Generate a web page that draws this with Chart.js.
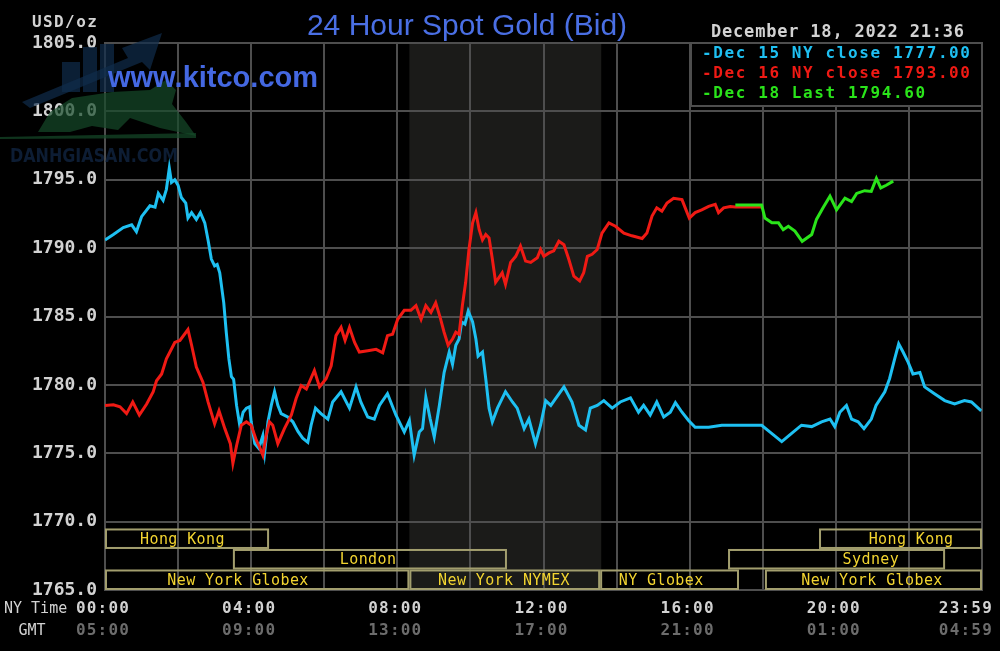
<!DOCTYPE html>
<html>
<head>
<meta charset="utf-8">
<script src="https://cdn.jsdelivr.net/npm/chart.js@4.4.1/dist/chart.umd.min.js"></script>
<style>
html,body{margin:0;padding:0;background:#000;}
canvas{display:block;}
</style>
</head>
<body>
<canvas id="c" width="1000" height="651"></canvas>
<script>
// ---------- DATA ----------
const titleText = '24 Hour Spot Gold (Bid)';
const siteText = 'www.kitco.com';
const dateText = 'December 18, 2022 21:36';
const unitText = 'USD/oz';

const yTicks = [1765, 1770, 1775, 1780, 1785, 1790, 1795, 1800, 1805];
const gridHours = [0, 2, 4, 6, 8, 10, 12, 14, 16, 18, 20, 22, 24];
const xLabelHours = [0, 4, 8, 12, 16, 20, 24];
const nyLabels = ['00:00', '04:00', '08:00', '12:00', '16:00', '20:00', '23:59'];
const gmtLabels = ['05:00', '09:00', '13:00', '17:00', '21:00', '01:00', '04:59'];

const legendNames = ['Dec 15 NY close', 'Dec 16 NY close', 'Dec 18 Last'];
const legendValues = ['1777.00', '1793.00', '1794.60'];

// NYMEX shaded window (hours, NY time)
const shadeStart = 8.33;
const shadeEnd = 13.58;

// trading sessions
const sessNames = ['Hong Kong', 'London', 'New York Globex', 'New York NYMEX', 'NY Globex', 'Sydney', 'Hong Kong', 'New York Globex'];
const sessStart = [0, 3.5, 0, 8.33, 13.55, 17.05, 19.54, 18.06];
const sessEnd = [4.49, 11.0, 8.33, 13.55, 17.35, 22.99, 24, 24];
const sessRow = [2, 1, 0, 0, 0, 1, 2, 0];
const sessLabelAt = [2.12, 7.2, 3.64, 10.92, 15.22, 20.96, 22.06, 20.99];

// Dec 15 (cyan)
const dec15T = [0,0.23,0.5,0.73,0.86,1.0,1.23,1.37,1.46,1.59,1.68,1.76,1.82,1.91,2.0,2.09,2.21,2.27,2.37,2.5,2.61,2.73,2.82,2.91,3.0,3.07,3.14,3.25,3.32,3.39,3.46,3.52,3.6,3.69,3.78,3.87,3.96,4.0,4.1,4.21,4.32,4.37,4.46,4.55,4.64,4.73,4.82,5.0,5.14,5.28,5.41,5.55,5.64,5.76,5.91,6.1,6.23,6.46,6.69,6.87,7.0,7.19,7.37,7.51,7.73,7.96,8.19,8.33,8.46,8.6,8.69,8.78,8.9,9.01,9.15,9.28,9.42,9.51,9.6,9.69,9.76,9.85,9.94,10.06,10.15,10.21,10.33,10.42,10.51,10.6,10.74,10.96,11.15,11.28,11.47,11.6,11.78,11.92,12.06,12.2,12.33,12.56,12.78,12.97,13.15,13.28,13.47,13.65,13.88,14.1,14.38,14.6,14.74,14.92,15.1,15.29,15.47,15.61,15.79,15.97,16.15,16.52,16.88,17.97,18.2,18.52,18.79,19.06,19.34,19.61,19.84,19.97,20.11,20.29,20.43,20.61,20.77,20.97,21.1,21.34,21.47,21.61,21.72,21.84,21.98,22.11,22.3,22.43,22.7,22.98,23.25,23.52,23.71,23.98];
const dec15P = [1790.6,1791.0,1791.5,1791.7,1791.2,1792.3,1793.1,1793.0,1794.0,1793.5,1794.3,1795.85,1794.8,1795.0,1794.6,1793.7,1793.3,1792.2,1792.6,1792.1,1792.6,1791.85,1790.6,1789.2,1788.7,1788.8,1788.2,1786.0,1783.8,1781.9,1780.6,1780.4,1778.5,1777.0,1778.0,1778.3,1778.4,1777.3,1775.7,1775.35,1776.3,1775.1,1777.3,1778.5,1779.5,1778.5,1777.9,1777.65,1777.3,1776.6,1776.1,1775.8,1777.05,1778.3,1777.9,1777.5,1778.75,1779.5,1778.3,1779.85,1778.75,1777.65,1777.5,1778.5,1779.35,1777.8,1776.55,1777.4,1774.85,1776.55,1776.8,1779.1,1777.5,1776.2,1778.5,1780.9,1782.4,1781.5,1782.9,1783.35,1784.6,1784.45,1785.4,1784.6,1783.35,1782.1,1782.4,1780.45,1778.3,1777.3,1778.3,1779.5,1778.75,1778.3,1776.8,1777.5,1775.7,1777.05,1778.85,1778.5,1779.0,1779.85,1778.75,1777.05,1776.7,1778.3,1778.5,1778.85,1778.3,1778.75,1779.05,1778.0,1778.5,1777.8,1778.75,1777.65,1778.0,1778.7,1778.0,1777.4,1776.9,1776.9,1777.05,1777.05,1776.55,1775.85,1776.45,1777.05,1776.95,1777.3,1777.5,1776.95,1778.0,1778.5,1777.5,1777.3,1776.8,1777.5,1778.5,1779.5,1780.45,1781.9,1783.0,1782.4,1781.65,1780.8,1780.9,1779.85,1779.35,1778.85,1778.6,1778.85,1778.75,1778.1];

// Dec 16 (red)
const dec16T = [0,0.23,0.41,0.59,0.76,0.94,1.14,1.32,1.41,1.55,1.68,1.91,2.05,2.27,2.37,2.5,2.68,2.82,3.0,3.12,3.28,3.43,3.5,3.6,3.73,3.87,4.0,4.14,4.23,4.32,4.41,4.5,4.59,4.73,4.91,5.1,5.23,5.37,5.51,5.73,5.87,6.05,6.19,6.32,6.46,6.57,6.69,6.83,6.96,7.19,7.42,7.6,7.73,7.87,8.01,8.19,8.37,8.51,8.65,8.78,8.92,9.05,9.17,9.28,9.39,9.51,9.6,9.69,9.78,9.87,9.96,10.06,10.15,10.24,10.33,10.42,10.51,10.6,10.69,10.78,10.87,10.96,11.1,11.24,11.37,11.51,11.65,11.83,11.92,12.01,12.15,12.28,12.42,12.56,12.69,12.83,12.99,13.1,13.2,13.33,13.47,13.6,13.79,13.97,14.2,14.42,14.7,14.83,14.97,15.1,15.24,15.38,15.56,15.79,15.9,15.99,16.15,16.33,16.52,16.7,16.79,16.93,17.11,17.25,17.97];
const dec16P = [1778.5,1778.55,1778.4,1777.9,1778.75,1777.8,1778.6,1779.5,1780.3,1780.8,1781.9,1783.1,1783.25,1784.05,1782.9,1781.3,1780.2,1778.75,1777.15,1778.1,1776.8,1775.7,1774.25,1775.55,1777.05,1777.3,1777.05,1775.95,1775.45,1774.85,1776.3,1777.3,1777.05,1775.7,1776.8,1777.8,1779.0,1779.95,1779.7,1781.05,1779.85,1780.45,1781.4,1783.6,1784.2,1783.25,1784.2,1783.1,1782.4,1782.5,1782.6,1782.35,1783.6,1783.7,1784.8,1785.45,1785.45,1785.8,1784.8,1785.8,1785.3,1786.0,1784.95,1783.85,1782.9,1783.35,1783.85,1783.7,1785.8,1787.5,1789.9,1791.85,1792.6,1791.35,1790.6,1791.0,1790.75,1789.2,1787.5,1787.85,1788.2,1787.35,1788.95,1789.4,1790.15,1789.05,1788.95,1789.3,1789.9,1789.4,1789.65,1789.8,1790.5,1790.25,1789.2,1787.95,1787.6,1788.2,1789.4,1789.55,1789.9,1791.1,1791.85,1791.6,1791.1,1790.9,1790.7,1791.1,1792.35,1792.95,1792.7,1793.3,1793.65,1793.55,1792.8,1792.2,1792.6,1792.8,1793.05,1793.2,1792.6,1792.95,1793.05,1793.0,1793.0];

// Dec 18 (green)
const dec18T = [17.25,17.97,18.06,18.25,18.43,18.56,18.7,18.88,19.08,19.34,19.47,19.65,19.84,20.02,20.25,20.43,20.57,20.79,20.97,21.11,21.23,21.38,21.57];
const dec18P = [1793.15,1793.15,1792.2,1791.85,1791.85,1791.35,1791.6,1791.25,1790.5,1791.0,1792.1,1792.95,1793.8,1792.8,1793.65,1793.4,1794.0,1794.2,1794.15,1795.1,1794.4,1794.6,1794.9];

// ---------- STYLE ----------
const C_CYAN = '#1ec0f2';
const C_RED = '#f01a14';
const C_GREEN = '#2ae41a';
const C_GRID = '#4e4e4e';
const C_TEXT = '#d2d2d2';
const C_GMT = '#6c6c6c';
const C_BLUE = '#4a6fe4';
const C_SESS_TEXT = '#f2d430';
const C_SESS_BOX = '#a29e6e';
const MONO = '"DejaVu Sans Mono", monospace';

const toXY = (t, p) => t.map((v, i) => ({x: v, y: p[i]}));

function spacedText(ctx, txt, x, y, spacing) {
  ctx.letterSpacing = spacing + 'px';
  ctx.fillText(txt, x, y);
  ctx.letterSpacing = '0px';
}

const backPlugin = {
  id: 'back',
  beforeDraw(chart) {
    const {ctx, chartArea: a, scales: {x}} = chart;
    ctx.save();
    ctx.fillStyle = '#000';
    ctx.fillRect(0, 0, chart.width, chart.height);
    const x0 = x.getPixelForValue(shadeStart), x1 = x.getPixelForValue(shadeEnd);
    ctx.fillStyle = '#1b1b19';
    ctx.fillRect(x0, a.top, x1 - x0, a.bottom - a.top);
    ctx.restore();
  }
};

const sessionPlugin = {
  id: 'sessions',
  afterDatasetsDraw(chart) {
    const {ctx, scales: {x, y}} = chart;
    const bandH = 1.5;
    ctx.save();
    ctx.lineWidth = 2;
    ctx.strokeStyle = C_SESS_BOX;
    ctx.font = '15px ' + MONO;
    ctx.textAlign = 'center';
    ctx.textBaseline = 'middle';
    for (let i = 0; i < sessNames.length; i++) {
      const lo = 1765 + sessRow[i] * bandH, hi = lo + bandH;
      const x0 = x.getPixelForValue(sessStart[i]), x1 = x.getPixelForValue(sessEnd[i]);
      const y0 = y.getPixelForValue(hi), y1 = y.getPixelForValue(lo);
      ctx.strokeRect(x0 + 1, y0 + 1, x1 - x0 - 2, y1 - y0 - 2);
    }
    ctx.fillStyle = C_SESS_TEXT;
    for (let i = 0; i < sessNames.length; i++) {
      const lo = 1765 + sessRow[i] * bandH, hi = lo + bandH;
      const yc = (y.getPixelForValue(hi) + y.getPixelForValue(lo)) / 2 + 1;
      spacedText(ctx, sessNames[i], x.getPixelForValue(sessLabelAt[i]), yc, 0.4);
    }
    ctx.restore();
  }
};

const overlayPlugin = {
  id: 'overlay',
  afterDraw(chart) {
    const {ctx, chartArea: a, scales: {x}} = chart;
    ctx.save();
    // x labels (two rows)
    ctx.font = 'bold 16px ' + MONO;
    ctx.textBaseline = 'middle';
    ctx.textAlign = 'center';
    for (let i = 0; i < xLabelHours.length; i++) {
      ctx.letterSpacing = '1.2px';
      const w = ctx.measureText(nyLabels[i]).width;
      let cx = x.getPixelForValue(xLabelHours[i]) - 2;
      if (cx + w / 2 > 993) cx = 993 - w / 2;
      ctx.fillStyle = C_TEXT;
      ctx.fillText(nyLabels[i], cx, 609);
      ctx.fillStyle = C_GMT;
      ctx.fillText(gmtLabels[i], cx, 631);
      ctx.letterSpacing = '0px';
    }
    ctx.font = '15px ' + MONO;
    ctx.fillStyle = C_TEXT;
    ctx.textAlign = 'left';
    ctx.fillText('NY Time', 4, 609);
    ctx.textAlign = 'center';
    ctx.fillText('GMT', 32, 631);

    // watermark (faint)
    ctx.globalAlpha = 0.7;
    ctx.fillStyle = '#0f2c4c';
    ctx.fillRect(62, 62, 18, 30);
    ctx.fillRect(83, 47, 14, 45);
    ctx.fillRect(100, 44, 14, 48);
    ctx.beginPath();
    ctx.moveTo(22, 102); ctx.lineTo(128, 58); ctx.lineTo(122, 48); ctx.lineTo(162, 33);
    ctx.lineTo(150, 70); ctx.lineTo(142, 62); ctx.lineTo(30, 108); ctx.closePath();
    ctx.fill();
    ctx.fillStyle = '#154a2a';
    ctx.beginPath();
    ctx.moveTo(38, 132); ctx.lineTo(50, 112); ctx.lineTo(72, 98); ctx.lineTo(112, 92);
    ctx.lineTo(150, 90); ctx.lineTo(166, 80); ctx.lineTo(176, 90); ctx.lineTo(172, 104);
    ctx.lineTo(186, 122); ctx.lineTo(196, 136); ctx.lineTo(160, 128); ctx.lineTo(130, 118);
    ctx.lineTo(118, 130); ctx.lineTo(92, 126); ctx.lineTo(70, 132); ctx.closePath();
    ctx.fill();
    ctx.beginPath();
    ctx.moveTo(0, 137); ctx.lineTo(196, 133); ctx.lineTo(196, 138); ctx.lineTo(0, 139); ctx.closePath();
    ctx.fill();
    ctx.fillStyle = '#12294a';
    ctx.font = 'bold 20px "DejaVu Sans Condensed", "DejaVu Sans", sans-serif';
    ctx.textAlign = 'left';
    ctx.textBaseline = 'alphabetic';
    ctx.fillText('DANHGIASAN.COM', 10, 162, 168);
    ctx.globalAlpha = 1;

    // legend box
    const lx0 = 691, ly0 = a.top, lx1 = a.right, ly1 = 106;
    ctx.fillStyle = '#000';
    ctx.fillRect(lx0, ly0, lx1 - lx0, ly1 - ly0);
    ctx.strokeStyle = C_GRID;
    ctx.lineWidth = 2;
    ctx.strokeRect(lx0, ly0, lx1 - lx0, ly1 - ly0);
    const lcolors = [C_CYAN, C_RED, C_GREEN];
    ctx.font = 'bold 16px ' + MONO;
    ctx.textAlign = 'left';
    ctx.textBaseline = 'middle';
    for (let i = 0; i < legendNames.length; i++) {
      ctx.fillStyle = lcolors[i];
      spacedText(ctx, '-' + legendNames[i] + ' ' + legendValues[i], 702, 54 + i * 20, 1.6);
    }

    // headers
    ctx.font = 'bold 16px ' + MONO;
    ctx.fillStyle = C_TEXT;
    ctx.textBaseline = 'alphabetic';
    spacedText(ctx, unitText, 32, 27, 1.4);
    ctx.font = 'bold 17px ' + MONO;
    spacedText(ctx, dateText, 711, 37, 0.8);

    ctx.fillStyle = C_BLUE;
    ctx.font = '30px "Liberation Sans", Arial, sans-serif';
    ctx.textAlign = 'center';
    ctx.fillText(titleText, 467, 35);
    ctx.fillStyle = '#4468e2';
    ctx.font = 'bold 29px "Liberation Sans", Arial, sans-serif';
    ctx.textAlign = 'left';
    ctx.fillText(siteText, 108, 87);
    ctx.restore();
  }
};

new Chart(document.getElementById('c'), {
  type: 'line',
  data: {
    datasets: [
      {label: legendNames[2], data: toXY(dec18T, dec18P), borderColor: C_GREEN, borderWidth: 3, pointRadius: 0, tension: 0, order: 0},
      {label: legendNames[1], data: toXY(dec16T, dec16P), borderColor: C_RED, borderWidth: 3, pointRadius: 0, tension: 0, order: 1},
      {label: legendNames[0], data: toXY(dec15T, dec15P), borderColor: C_CYAN, borderWidth: 3, pointRadius: 0, tension: 0, order: 2}
    ]
  },
  options: {
    responsive: false,
    animation: false,
    events: [],
    layout: {padding: {top: 43, right: 18, left: 0, bottom: 0}},
    plugins: {legend: {display: false}, tooltip: {enabled: false}, title: {display: false}},
    scales: {
      x: {
        type: 'linear', min: 0, max: 24,
        afterBuildTicks: s => { s.ticks = gridHours.map(v => ({value: v})); },
        afterFit: s => { s.height = 61; },
        ticks: {display: false},
        grid: {color: C_GRID, lineWidth: 2, drawTicks: false},
        border: {color: C_GRID, width: 2}
      },
      y: {
        min: 1765, max: 1805,
        afterBuildTicks: s => { s.ticks = yTicks.map(v => ({value: v})); },
        afterFit: s => { s.width = 105; },
        ticks: {
          callback: v => Number(v).toFixed(1),
          color: C_TEXT, padding: 8,
          font: {family: 'DejaVu Sans Mono', size: 18, weight: 'bold'}
        },
        grid: {color: C_GRID, lineWidth: 2, drawTicks: false},
        border: {color: C_GRID, width: 2}
      }
    }
  },
  plugins: [backPlugin, sessionPlugin, overlayPlugin]
});
</script>
</body>
</html>
